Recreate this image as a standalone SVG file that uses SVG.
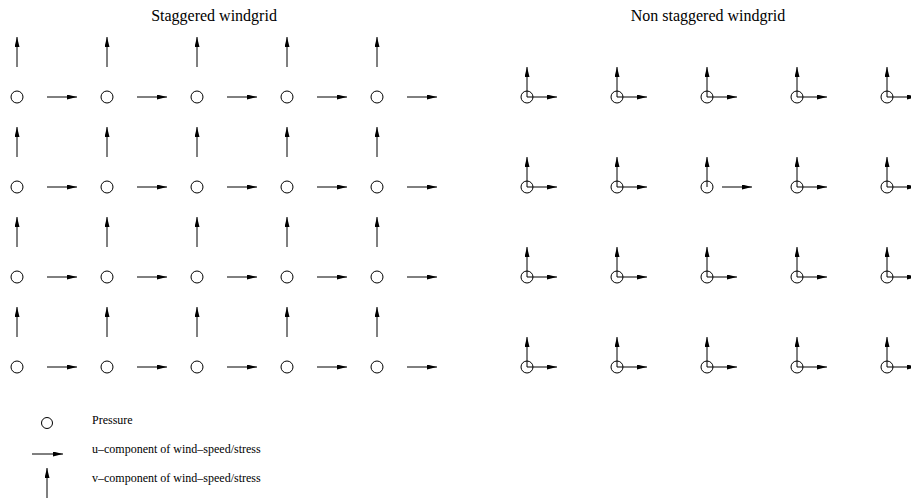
<svg xmlns="http://www.w3.org/2000/svg" width="911" height="498" viewBox="0 0 911 498">
<style>
.t{font-family:"Liberation Serif","Times New Roman",serif;fill:#000}
.title{font-size:16px;text-anchor:middle}
.leg{font-size:12px}
.p{fill:none;stroke:#000;stroke-width:1}
.a{stroke:#000;stroke-width:1;fill:none;marker-end:url(#ah)}
</style>
<defs>
<marker id="ah" markerUnits="userSpaceOnUse" markerWidth="11" markerHeight="6" refX="10" refY="2.5" orient="auto">
<path d="M0,0 L10,2.5 L0,5 z" fill="#000"/>
</marker>
<g id="su"><line class="a" x1="30" y1="0" x2="60" y2="0"/></g>
<g id="sv"><line class="a" x1="0" y1="-30" x2="0" y2="-60"/></g>
<g id="nn"><circle class="p" cx="0" cy="0" r="6"/><line class="a" x1="0" y1="0" x2="0" y2="-30"/><line class="a" x1="0" y1="0" x2="30" y2="0"/></g>
</defs>
<text class="t title" x="214" y="21">Staggered windgrid</text>
<text class="t title" x="708" y="21">Non staggered windgrid</text>
<g id="staggered">
<g id="s-row1" transform="translate(0,97)">
<circle class="p" cx="17" cy="0" r="6"/><circle class="p" cx="107" cy="0" r="6"/><circle class="p" cx="197" cy="0" r="6"/><circle class="p" cx="287" cy="0" r="6"/><circle class="p" cx="377" cy="0" r="6"/>
<use href="#su" x="17"/><use href="#su" x="107"/><use href="#su" x="197"/><use href="#su" x="287"/><use href="#su" x="377"/>
<use href="#sv" x="17"/><use href="#sv" x="107"/><use href="#sv" x="197"/><use href="#sv" x="287"/><use href="#sv" x="377"/>
</g>
<g id="s-row2" transform="translate(0,187)">
<circle class="p" cx="17" cy="0" r="6"/><circle class="p" cx="107" cy="0" r="6"/><circle class="p" cx="197" cy="0" r="6"/><circle class="p" cx="287" cy="0" r="6"/><circle class="p" cx="377" cy="0" r="6"/>
<use href="#su" x="17"/><use href="#su" x="107"/><use href="#su" x="197"/><use href="#su" x="287"/><use href="#su" x="377"/>
<use href="#sv" x="17"/><use href="#sv" x="107"/><use href="#sv" x="197"/><use href="#sv" x="287"/><use href="#sv" x="377"/>
</g>
<g id="s-row3" transform="translate(0,277)">
<circle class="p" cx="17" cy="0" r="6"/><circle class="p" cx="107" cy="0" r="6"/><circle class="p" cx="197" cy="0" r="6"/><circle class="p" cx="287" cy="0" r="6"/><circle class="p" cx="377" cy="0" r="6"/>
<use href="#su" x="17"/><use href="#su" x="107"/><use href="#su" x="197"/><use href="#su" x="287"/><use href="#su" x="377"/>
<use href="#sv" x="17"/><use href="#sv" x="107"/><use href="#sv" x="197"/><use href="#sv" x="287"/><use href="#sv" x="377"/>
</g>
<g id="s-row4" transform="translate(0,367)">
<circle class="p" cx="17" cy="0" r="6"/><circle class="p" cx="107" cy="0" r="6"/><circle class="p" cx="197" cy="0" r="6"/><circle class="p" cx="287" cy="0" r="6"/><circle class="p" cx="377" cy="0" r="6"/>
<use href="#su" x="17"/><use href="#su" x="107"/><use href="#su" x="197"/><use href="#su" x="287"/><use href="#su" x="377"/>
<use href="#sv" x="17"/><use href="#sv" x="107"/><use href="#sv" x="197"/><use href="#sv" x="287"/><use href="#sv" x="377"/>
</g>
</g>
<g id="nonstaggered">
<g id="n-row1" transform="translate(0,97)">
<use href="#nn" x="527"/><use href="#nn" x="617"/><use href="#nn" x="707"/><use href="#nn" x="797"/><use href="#nn" x="887"/>
</g>
<g id="n-row2" transform="translate(0,187)">
<use href="#nn" x="527"/><use href="#nn" x="617"/>
<circle class="p" cx="707" cy="0" r="6"/><line class="a" x1="707" y1="0" x2="707" y2="-30"/><line class="a" x1="722" y1="0" x2="752" y2="0"/>
<use href="#nn" x="797"/><use href="#nn" x="887"/>
</g>
<g id="n-row3" transform="translate(0,277)">
<use href="#nn" x="527"/><use href="#nn" x="617"/><use href="#nn" x="707"/><use href="#nn" x="797"/><use href="#nn" x="887"/>
</g>
<g id="n-row4" transform="translate(0,367)">
<use href="#nn" x="527"/><use href="#nn" x="617"/><use href="#nn" x="707"/><use href="#nn" x="797"/><use href="#nn" x="887"/>
</g>
</g>
<g id="legend">
<circle class="p" cx="47" cy="423" r="5.5"/>
<text class="t leg" x="92" y="424">Pressure</text>
<line class="a" x1="32" y1="454" x2="63" y2="454"/>
<text class="t leg" x="92" y="453">u–component of wind–speed/stress</text>
<line class="a" x1="47" y1="500" x2="47" y2="468"/>
<text class="t leg" x="92" y="482">v–component of wind–speed/stress</text>
</g>
</svg>
